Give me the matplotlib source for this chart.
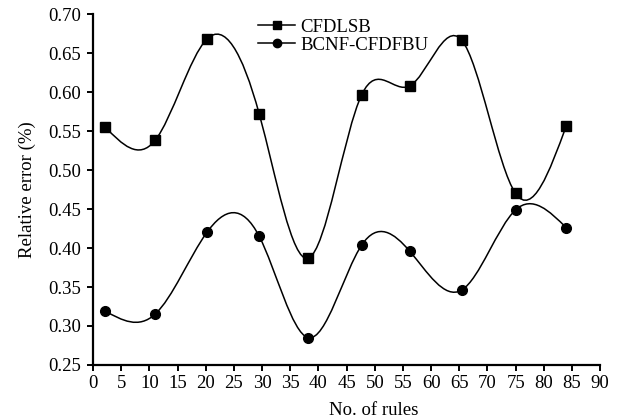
import numpy as np
import matplotlib
matplotlib.use("Agg")
import matplotlib.pyplot as plt
from matplotlib.path import Path
from matplotlib.patches import PathPatch
from matplotlib.lines import Line2D

plt.rcParams['font.family'] = ['Liberation Serif', 'DejaVu Serif']

rules = [2.2, 11, 20.2, 29.5, 38.2, 47.7, 56.2, 65.4, 75, 84]
cfdlsb = [0.555, 0.538, 0.668, 0.572, 0.387, 0.597, 0.608, 0.667, 0.470, 0.557]
bcnf = [0.319, 0.315, 0.420, 0.415, 0.285, 0.404, 0.396, 0.346, 0.449, 0.426]

series_names = ["CFDLSB", "BCNF-CFDFBU"]
x_ticks = list(range(0, 95, 5))
y_ticks = [0.25, 0.30, 0.35, 0.40, 0.45, 0.50, 0.55, 0.60, 0.65, 0.70]


def spline_path(x, y):
    """Natural cubic spline through the data, expressed exactly as Bezier segments."""
    x = np.asarray(x, float)
    y = np.asarray(y, float)
    n = len(x)
    h = np.diff(x)
    A = np.zeros((n, n))
    b = np.zeros(n)
    A[0, 0] = A[-1, -1] = 1.0
    for i in range(1, n - 1):
        A[i, i - 1] = h[i - 1]
        A[i, i] = 2 * (h[i - 1] + h[i])
        A[i, i + 1] = h[i]
        b[i] = 3 * ((y[i + 1] - y[i]) / h[i] - (y[i] - y[i - 1]) / h[i - 1])
    c = np.linalg.solve(A, b)
    m = np.zeros(n)
    for i in range(n - 1):
        m[i] = (y[i + 1] - y[i]) / h[i] - h[i] * (2 * c[i] + c[i + 1]) / 3
    m[-1] = (y[-1] - y[-2]) / h[-1] + h[-1] * (2 * c[-1] + c[-2]) / 3
    verts = [(x[0], y[0])]
    codes = [Path.MOVETO]
    for i in range(n - 1):
        verts += [(x[i] + h[i] / 3, y[i] + m[i] * h[i] / 3),
                  (x[i + 1] - h[i] / 3, y[i + 1] - m[i + 1] * h[i] / 3),
                  (x[i + 1], y[i + 1])]
        codes += [Path.CURVE4] * 3
    return Path(verts, codes)


fig = plt.figure(figsize=(6.2, 4.19), dpi=100)
ax = fig.add_axes([0.150, 0.129, 0.818, 0.837])

for ys, mk, ms in [(cfdlsb, 's', 7.5), (bcnf, 'o', 7)]:
    patch = PathPatch(spline_path(rules, ys), facecolor='none', edgecolor='black', lw=1.1,
                      transform=ax.transData, zorder=2)
    ax.add_patch(patch)
    ax.plot(rules, ys, linestyle='none', marker=mk, markersize=ms, color='black', zorder=3)

ax.set_xlim(0, 90)
ax.set_ylim(0.25, 0.70)
ax.set_xticks(x_ticks)
ax.set_yticks(y_ticks)
ax.set_yticklabels([f"{v:.2f}" for v in y_ticks])
ax.spines['top'].set_visible(False)
ax.spines['right'].set_visible(False)
for sp in ['left', 'bottom']:
    ax.spines[sp].set_linewidth(1.6)
ax.tick_params(axis='both', direction='out', length=4.5, width=1.4, labelsize=13.5)
ax.tick_params(axis='y', pad=4)
ax.tick_params(axis='x', pad=3)

ax.set_xlabel("No. of rules", fontsize=13.5)
ax.xaxis.set_label_coords((374 - 93) / 507, -0.106)
ax.set_ylabel("Relative error (%)", fontsize=13.5)
ax.yaxis.set_label_coords(-0.112, 0.5)

handles = [Line2D([], [], color='black', lw=1.1, marker='s', markersize=6),
           Line2D([], [], color='black', lw=1.1, marker='o', markersize=6)]
fig.legend(handles, series_names, loc='upper left', bbox_to_anchor=(0.416, 0.955),
           frameon=False, fontsize=13.5, handlelength=2.0, handletextpad=0.27,
           labelspacing=0.05, borderaxespad=0, borderpad=0)

fig.savefig("out.png", dpi=100)
